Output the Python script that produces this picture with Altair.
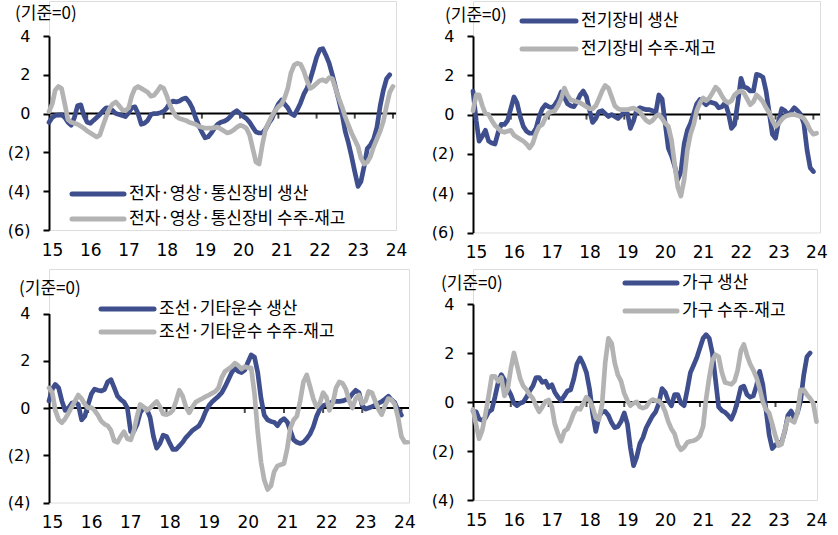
import altair as alt
import pandas as pd

FONT = "Noto Sans CJK KR"
NUM_FONT = "DejaVu Sans"
NAVY = "#3F4E8D"
GRAY = "#B3B3B3"

YEARS = list(range(2015, 2025))
TICK_YEARS = list(range(2016, 2025))
UNIT_TITLE = "(기준=0)"

# ---- monthly series, starting January 2015 ----
elec_names = ["전자·영상·통신장비 생산", "전자·영상·통신장비 수주-재고"]
elec_prod = [
    -0.45, -0.2, -0.1, -0.08, -0.07, -0.2, -0.45, -0.6, -0.2, 0.4,
    0.45, -0.1, -0.45, -0.5, -0.35, -0.2, -0.05, 0.15, 0.3, 0.28,
    0.15, 0.0, -0.05, -0.1, -0.15, 0.05, 0.3, 0.35, 0.0, -0.55,
    -0.5, -0.35, -0.05, 0.0, 0.0, 0.05, 0.12, 0.3, 0.55, 0.65,
    0.6, 0.65, 0.75, 0.8, 0.6, 0.3, -0.2, -0.6, -0.95, -1.25,
    -1.2, -1.0, -0.75, -0.55, -0.45, -0.4, -0.3, -0.15, 0.05, 0.15,
    0.0, -0.15, -0.25, -0.45, -0.7, -0.95, -1.0, -1.0, -0.8, -0.5,
    -0.25, 0.15, 0.5, 0.7, 0.5, 0.3, 0.0, -0.1, 0.2, 0.55,
    1.0, 1.3, 1.75, 2.3, 2.9, 3.3, 3.35, 3.0, 2.6, 2.0,
    1.35, 0.7, 0.0, -0.9, -1.5, -2.2, -3.0, -3.75, -3.5, -2.7,
    -1.8, -1.6, -1.3, -0.7, 0.4, 1.2, 1.8, 2.0,
]
elec_order = [
    0.1, 0.5, 1.2, 1.4, 1.3, 0.5, -0.3, -0.45, -0.5, -0.55,
    -0.65, -0.75, -0.9, -1.0, -1.1, -1.2, -1.1, -0.6, -0.15, 0.25,
    0.5, 0.6, 0.4, 0.2, 0.15, 0.3, 0.9, 1.3, 1.4, 1.3,
    1.2, 1.1, 0.9, 0.95, 1.15, 1.4, 1.3, 0.9, 0.45, 0.1,
    -0.15, -0.25, -0.3, -0.35, -0.45, -0.5, -0.55, -0.65, -0.7, -0.75,
    -0.75, -0.75, -0.72, -0.7, -0.8, -0.9, -1.0, -0.95, -0.85, -0.7,
    -0.6, -0.65, -0.75, -1.1, -1.8, -2.5, -2.6, -1.6, -0.8, -0.45,
    -0.1, 0.15, 0.35, 0.5, 0.8, 1.3, 2.1, 2.5, 2.6, 2.55,
    2.2, 1.7, 1.3, 1.4, 1.55, 1.7, 1.75, 1.65, 1.85, 1.8,
    1.3, 0.8, 0.35, -0.15, -0.6, -1.0, -1.35, -1.7, -2.3, -2.6,
    -2.5, -2.2, -1.7, -1.3, -0.9, -0.4, 0.4, 1.1, 1.4,
]

elecq_names = ["전기장비 생산", "전기장비 수주-재고"]
elecq_prod = [
    1.2, -0.3, -1.35, -1.1, -0.8, -1.35, -1.45, -1.5, -0.9, -0.5,
    -0.5, -0.3, 0.3, 0.9, 0.6, -0.1, -0.6, -0.85, -0.95, -0.95,
    -0.7, -0.1, 0.3, 0.5, 0.4, 0.35, 0.5, 0.75, 1.15, 0.9,
    0.55, 0.45, 0.4, 0.65, 1.0, 1.2, 0.9, 0.2, -0.4, -0.2,
    0.15, 0.2, 0.05, -0.1, 0.0, -0.1, -0.2, -0.05, 0.15, 0.05,
    -0.7, -0.3, 0.25, 0.35, 0.3, 0.25, 0.25, 0.2, 0.1, 1.0,
    0.8, -0.5, -1.7, -2.1, -2.6, -3.3, -2.9, -1.5, -0.8, -0.45,
    0.05, 0.55, 0.77, 0.65, 0.5, 0.65, 0.6, 0.55, 0.35, 0.4,
    0.6, 0.1, -0.7, -0.5, 0.6, 1.85, 1.4, 1.35, 1.2, 1.2,
    2.05, 2.0, 1.9, 1.2, 0.1, -1.0, -1.2, -0.3, 0.3, 0.2,
    0.0, 0.15, 0.35, 0.2, 0.0, -0.45, -1.8, -2.7, -2.9,
]
elecq_order = [
    0.2, 1.0, 1.0, 0.45, 0.05, 0.0, -0.3, -0.55, -0.7, -0.85,
    -0.9, -0.85, -0.8, -1.05, -1.15, -1.25, -1.35, -1.5, -1.7, -1.45,
    -0.95, -0.6, -0.5, -0.15, 0.1, 0.15, 0.2, 0.45, 0.8, 1.35,
    1.0, 0.75, 0.7, 0.65, 0.6, 0.5, 0.4, 0.3, 0.3, 0.45,
    0.8, 1.2, 1.48, 1.35, 0.9, 0.45, 0.3, 0.25, 0.25, 0.25,
    0.3, 0.33, 0.25, 0.15, -0.1, -0.3, -0.4, -0.3, -0.1, 0.0,
    -0.2, -0.45, -0.6, -1.3, -2.5, -3.7, -4.15, -3.3, -1.8, -1.0,
    -0.5, 0.2, 0.6, 0.85, 0.7, 0.85, 1.1, 1.4, 1.25, 0.95,
    0.7, 0.6, 0.7, 1.0, 1.15, 1.2, 1.1, 0.8, 0.5, 0.65,
    1.0, 0.85, 0.65, 0.35, 0.1, -0.3, -0.6, -0.45, -0.25, -0.1,
    -0.05, 0.0, 0.0, -0.05, -0.1, -0.2, -0.45, -0.8, -1.0, -0.95,
]

ship_names = ["조선·기타운수 생산", "조선·기타운수 수주-재고"]
ship_prod = [
    0.3, 0.8, 1.0, 0.85, 0.3, -0.1, 0.0, 0.2, 0.25, 0.15,
    -0.5, -0.35, 0.15, 0.6, 0.8, 0.75, 0.72, 0.78, 1.1, 1.2,
    0.85, 0.5, 0.35, 0.25, 0.0, -1.0, -1.0, -0.7, -0.2, 0.0,
    -0.05, -0.4, -1.2, -1.7, -1.5, -1.15, -1.2, -1.5, -1.75, -1.75,
    -1.6, -1.45, -1.25, -1.1, -0.95, -0.85, -0.75, -0.5, -0.15, 0.1,
    0.25, 0.38, 0.5, 0.65, 0.9, 1.2, 1.5, 1.7, 1.55, 1.5,
    1.6, 1.95, 2.25, 2.15, 1.5, 0.4, -0.3, -0.5, -0.57, -0.6,
    -0.75, -0.55, -0.45, -0.6, -0.95, -1.35, -1.45, -1.5, -1.45, -1.3,
    -1.1, -0.8, -0.35, -0.05, 0.1, 0.15, 0.2, 0.27, 0.28, 0.28,
    0.3, 0.35, 0.42, 0.6, 0.75, 0.65, 0.1, -0.05, 0.0, 0.05,
    0.12, 0.2, 0.27, 0.38, 0.5, 0.35, 0.22, -0.1, -0.3,
]
ship_order = [
    0.85, 0.65, -0.1, -0.5, -0.62, -0.45, -0.22, 0.05, 0.3, 0.55,
    0.4, 0.15, 0.0, 0.02, -0.1, -0.3, -0.55, -0.68, -0.75, -0.95,
    -1.4, -1.45, -1.2, -1.0, -1.3, -1.35, -1.0, -0.35, 0.15, 0.05,
    -0.1, 0.0, 0.15, 0.28, 0.05, -0.25, -0.28, -0.22, -0.1, 0.3,
    0.75, 0.5, 0.05, -0.2, 0.05, 0.25, 0.33, 0.4, 0.48, 0.55,
    0.62, 0.7, 0.85, 1.3, 1.55, 1.65, 1.75, 1.9, 1.8, 1.65,
    1.75, 1.7, 1.7, 0.6, -1.0, -2.3, -3.05, -3.45, -3.3, -2.7,
    -2.45, -2.4, -2.35, -1.7, -0.85, -0.5, -0.35, 0.3, 1.1, 1.4,
    0.9, 0.4, 0.05, 0.2, 0.65, 0.45, -0.1, 0.2, 0.85, 1.1,
    1.05, 0.8, 0.3, 0.0, 0.4, 0.55, 0.2, 0.3, 0.7, 0.65,
    0.3, -0.05, -0.28, 0.1, 0.4, 0.35, 0.15, -0.4, -1.2, -1.45,
    -1.45,
]

furn_names = ["가구 생산", "가구 수주-재고"]
furn_prod = [
    -0.37, -0.4, -0.7, -0.75, -0.65, -0.4, -0.32, 0.2, 0.8, 1.12,
    0.9, 0.55, 0.3, -0.05, -0.15, -0.05, 0.0, 0.2, 0.45, 0.65,
    1.0, 1.0, 0.8, 0.85, 0.6, 0.7, 0.4, 0.2, 0.05, 0.25,
    0.45, 0.5, 0.95, 1.55, 1.8, 1.55, 1.2, 0.5, -0.45, -1.2,
    -0.6, -0.4, -0.38, -0.55, -0.85, -1.05, -1.0, -0.8, -0.45, -0.9,
    -1.85, -2.6, -2.25, -1.7, -1.45, -1.05, -0.8, -0.57, -0.4, -0.05,
    0.55, 0.4, 0.05, -0.15, 0.3, 0.3, -0.05, -0.15, 0.5, 1.2,
    1.5, 1.8, 2.2, 2.6, 2.75, 2.6, 2.0, 0.9, -0.2, -0.35,
    -0.42, -0.55, -0.7, -0.4, 0.05, 0.6, 0.65, 0.3, 0.2, 0.25,
    0.65, 1.25, 0.7, -0.3, -1.35, -1.9, -1.75, -1.65, -1.65, -1.2,
    -0.55, -0.37, -0.65, -0.45, 0.05, 1.1, 1.85, 2.0,
]
furn_order = [
    -0.3, -0.95, -1.5, -1.15, -0.5, 0.25, 1.05, 1.05, 0.85, 1.0,
    0.25, 0.5, 1.35, 2.0, 1.5, 0.95, 0.65, 0.5, 0.3, 0.15,
    -0.15, -0.4, -0.2, 0.02, 0.08, -0.2, -0.9, -1.3, -1.6, -1.2,
    -1.1, -0.8, -0.45, -0.25, -0.3, -0.05, 0.2, 0.05, -0.2, -0.65,
    -0.72, -0.1, 1.6, 2.6, 2.4, 1.6, 1.1, 0.85, 0.35, 0.05,
    -0.15, -0.05, 0.0, -0.2, -0.25, -0.2, 0.0, 0.1, 0.05, 0.05,
    -0.1, -0.4, -0.8, -1.1, -1.3, -1.75, -1.95, -1.85, -1.65, -1.6,
    -1.58, -1.52, -1.38, -1.0, 0.1, 1.0, 1.7, 1.93, 1.85, 1.2,
    0.8, 0.76, 0.72, 0.85, 1.3, 2.1, 2.35, 1.9, 1.55, 1.3,
    1.0, 0.55, 0.0, -0.3, -0.45, -0.9, -1.4, -1.78, -1.72, -1.15,
    -0.68, -0.75, -0.83, -0.45, 0.5, 0.5, 0.3, 0.15, -0.05, -0.8,
]


def monthly(values):
    dates = pd.date_range("2015-01-01", periods=len(values), freq="MS")
    return pd.DataFrame({"date": dates.strftime("%Y-%m-%d"), "value": values})


def one_row():
    return pd.DataFrame({"k": [0]})


def panel(prod, order, names, width, height, top, y_min, end, title_xy, legend):
    x_scale = alt.Scale(
        domain=[alt.DateTime(year=2015, month=1, date=1), alt.DateTime(**end)],
        nice=False,
    )
    y_scale = alt.Scale(domain=[y_min, 4], range=[height, top], nice=False, zero=False)
    x_axis = alt.Axis(
        values=[alt.DateTime(year=y, month=1, date=1) for y in YEARS],
        format="%y", domain=False, ticks=False, grid=False,
        labelFontSize=17, labelPadding=12, labelOffset=3,
        labelFlush=False, labelOverlap=False,
        labelColor="black", labelFont=NUM_FONT, title=None,
    )
    y_axis = alt.Axis(
        values=list(range(4, y_min - 1, -2)),
        labelExpr="datum.value < 0 ? '(' + (-datum.value) + ')' : '' + datum.value",
        grid=False, domainColor="black", domainWidth=2,
        tickColor="black", tickWidth=2, tickSize=6,
        labelFontSize=16, labelPadding=13, labelColor="black", labelFont=NUM_FONT,
        title=None,
    )
    X = alt.X("date:T", scale=x_scale, axis=x_axis)
    Y = alt.Y("value:Q", scale=y_scale, axis=y_axis)

    zero = alt.Chart(one_row()).mark_rule(color="black", strokeWidth=2).encode(
        y=alt.datum(0, scale=y_scale, axis=y_axis)
    )
    ticks = alt.Chart(
        pd.DataFrame({"date": [f"{y}-01-01" for y in TICK_YEARS]})
    ).mark_tick(orient="vertical", color="black", size=5, thickness=2, yOffset=2.5).encode(
        x=X, y=alt.datum(0, scale=y_scale, axis=y_axis)
    )
    line_kw = dict(strokeWidth=4.7, strokeJoin="round", strokeCap="round")
    prod_line = alt.Chart(monthly(prod)).mark_line(color=NAVY, **line_kw).encode(x=X, y=Y)
    order_line = alt.Chart(monthly(order)).mark_line(color=GRAY, **line_kw).encode(x=X, y=Y)

    title = alt.Chart(one_row()).mark_text(
        align="left", baseline="middle", fontSize=17, font=FONT, color="black"
    ).encode(x=alt.value(title_xy[0]), y=alt.value(title_xy[1]), text=alt.value(UNIT_TITLE))

    lx0, lx1, tx, ys = legend
    deco = []
    for name, color, yy in zip(names, [NAVY, GRAY], ys):
        deco.append(
            alt.Chart(one_row()).mark_rule(color=color, strokeWidth=5, strokeCap="round").encode(
                x=alt.value(lx0), x2=alt.value(lx1), y=alt.value(yy)
            )
        )
        deco.append(
            alt.Chart(one_row()).mark_text(
                align="left", baseline="middle", fontSize=17, font=FONT, color="black"
            ).encode(x=alt.value(tx), y=alt.value(yy), text=alt.value(name))
        )

    return alt.layer(zero, ticks, prod_line, order_line, title, *deco).properties(
        width=width, height=height
    )


p1 = panel(elec_prod, elec_order, elec_names, 347, 229, 35, -6,
           dict(year=2024, month=1, date=30), (-34, 13), (23, 75, 80, (193, 218)))
p2 = panel(elecq_prod, elecq_order, elecq_names, 347, 231.5, 35, -6,
           dict(year=2024, month=3, date=5), (-28, 15), (49, 103, 108, (20, 48)))
p3 = panel(ship_prod, ship_order, ship_names, 360, 233.5, 44.5, -4,
           dict(year=2024, month=3, date=12), (-30, 20), (52, 105, 110, (40, 63)))
p4 = panel(furn_prod, furn_order, furn_names, 344, 231, 35, -4,
           dict(year=2024, month=2, date=6), (-32, 15), (152, 204, 209, (14, 42)))

chart = alt.concat(
    p1, p2, p3, p4,
    columns=2,
    spacing=alt.RowColnumber(row=36, column=64),
    bounds="flush",
    align="each",
).properties(
    padding={"left": 6, "top": 0, "right": 10, "bottom": 30}
).configure_view(stroke=None).configure(font=FONT)

chart.save("out.html", embed_options={"renderer": "svg", "actions": False})
